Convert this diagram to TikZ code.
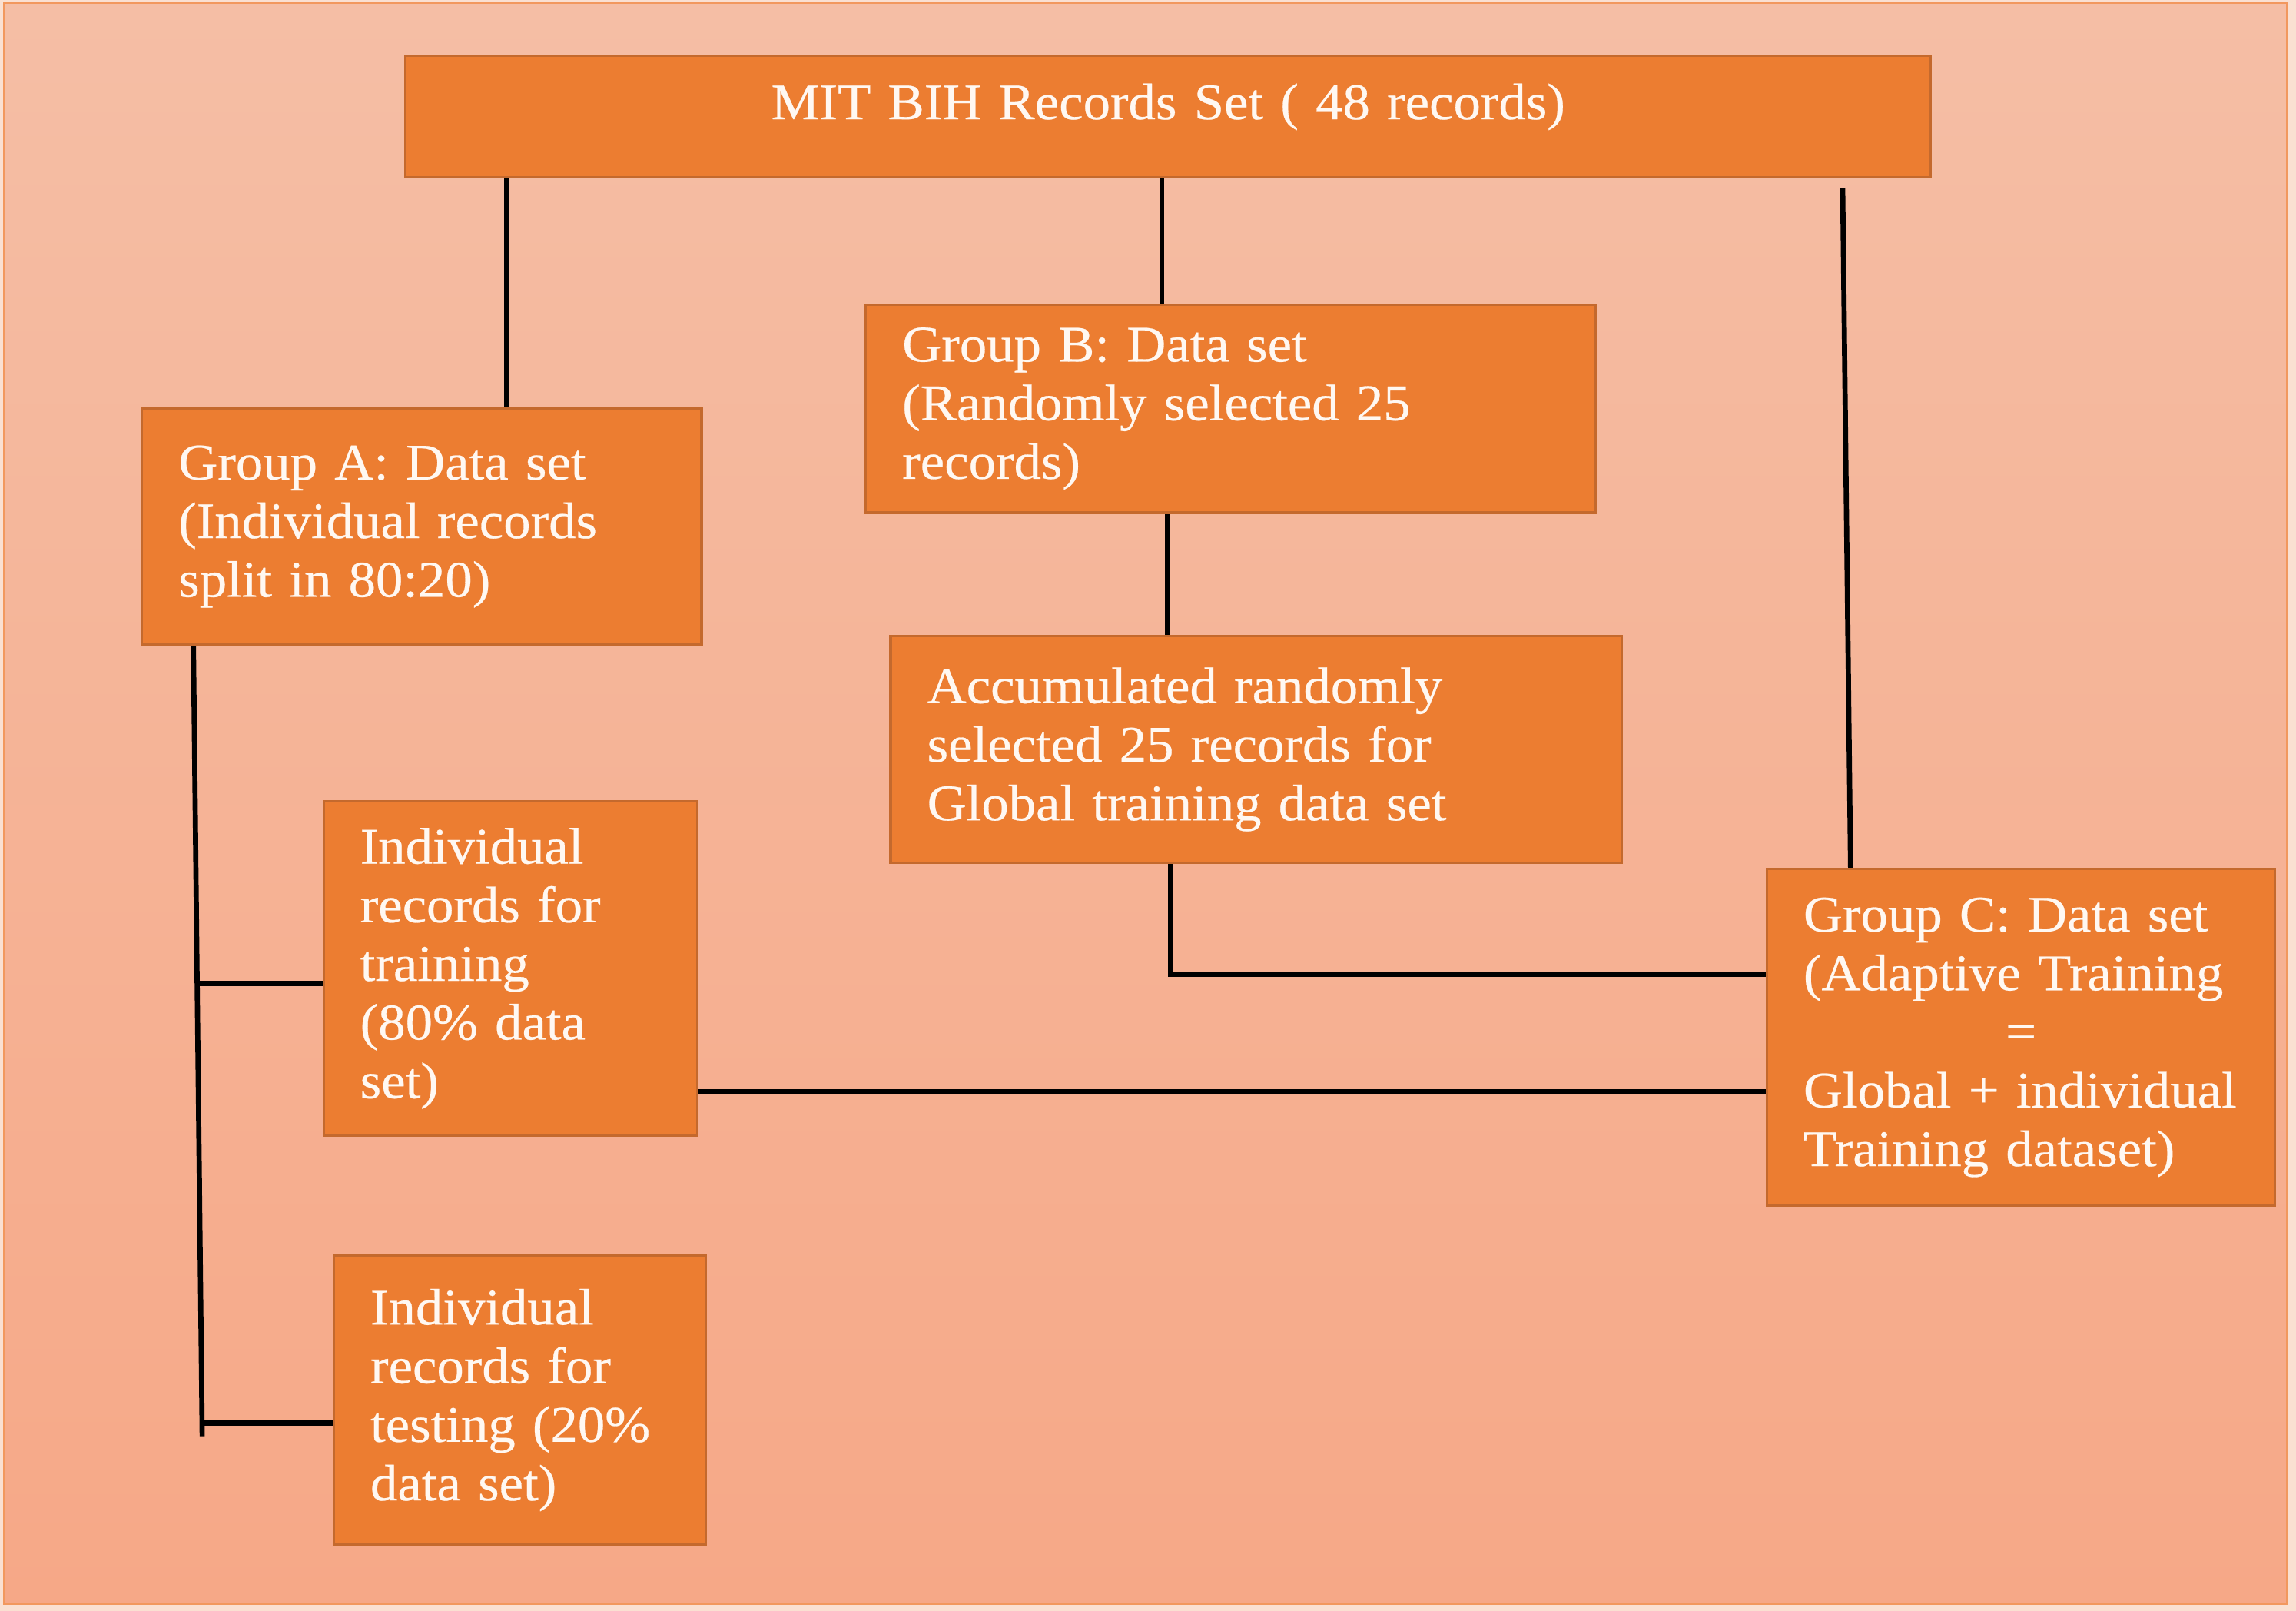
\documentclass[tikz,border=0pt]{standalone}
\usepackage{fontspec}
\setmainfont{Liberation Serif}[FakeStretch=1.06,FakeBold=0.4]
\usetikzlibrary{calc}
\definecolor{bgtop}{HTML}{F5BEA5}
\definecolor{bgbot}{HTML}{F6A887}
\definecolor{outerc}{HTML}{FAE0D2}
\definecolor{framec}{HTML}{F2985E}
\definecolor{boxfill}{HTML}{EC7D31}
\definecolor{boxedge}{HTML}{C4692D}
\definecolor{txt}{HTML}{FFF8F2}
\newcommand{\lineb}[1]{\mbox{#1}}
\begin{document}
\begin{tikzpicture}[x=1pt,y=-1pt,
  box/.style={draw=boxedge, fill=boxfill, line width=1.6pt, anchor=north west,
    align=left, inner xsep=25pt, inner ysep=0pt, text=txt,
    font=\fontsize{35}{40}\selectfont},
  link/.style={draw=black, line width=3.5pt}]
\useasboundingbox (0,0) rectangle (1567,1099);
\fill[outerc] (0,0) rectangle (1567,1099);
\shade[top color=bgtop, bottom color=bgbot] (3,2) rectangle (1561,1094);
\draw[framec, line width=1.6pt] (3,2) rectangle (1561,1094);

\node[box, minimum width=1041pt, minimum height=83pt, text width=991pt, align=center,
  text height=25pt, text depth=21pt] (top) at (276,37) {MIT BIH Records Set ( 48 records)};
\node[box, minimum width=498pt, minimum height=142pt, text width=448pt] (B) at (590,207)
  {\lineb{Group B: Data set}\\\lineb{(Randomly selected 25}\\\lineb{records)}};
\node[box, minimum width=382pt, minimum height=161pt, text width=332pt] (A) at (96,278)
  {\lineb{Group A: Data set}\\\lineb{(Individual records}\\\lineb{split in 80:20)}};
\node[box, minimum width=499pt, minimum height=155pt, text width=449pt] (acc) at (607,433)
  {\lineb{Accumulated randomly}\\\lineb{selected 25 records for}\\\lineb{Global training data set}};
\node[box, minimum width=255pt, minimum height=228pt, text width=205pt] (T) at (220,546)
  {\lineb{Individual}\\\lineb{records for}\\\lineb{training}\\\lineb{(80\% data}\\\lineb{set)}};
\node[box, minimum width=254pt, minimum height=197pt, text width=204pt] (U) at (227,856)
  {\lineb{Individual}\\\lineb{records for}\\\lineb{testing (20\%}\\\lineb{data set)}};
\node[box, minimum width=347pt, minimum height=230pt, text width=297pt] (C) at (1205,592)
  {\lineb{Group C: Data set}\\\lineb{(Adaptive Training}\\\makebox[\linewidth]{=}\\\lineb{Global + individual}\\\lineb{Training dataset)}};

% connectors
\coordinate (a1) at ($(A.north west)+(250,0)$);
\draw[link] (a1 |- top.south) -- (a1);
\coordinate (b1) at ($(B.north west)+(203,0)$);
\draw[link] (b1 |- top.south) -- (b1);
\coordinate (r0) at ($(top.south east)+(-61,7)$);
\coordinate (c0) at ($(C.north west)+(58,0)$);
\draw[link] (r0) -- (c0);
\coordinate (b2) at ($(B.south west)+(207,0)$);
\draw[link] (b2) -- (b2 |- acc.north);
\coordinate (acc1) at ($(acc.south west)+(192,0)$);
\coordinate (c1) at ($(C.north west)+(0,73)$);
\draw[link] (acc1) |- (c1);
\coordinate (t1) at ($(T.north east)+(0,199)$);
\draw[link] (t1) -- (t1 -| C.west);
\coordinate (s0) at ($(A.south west)+(36,0)$);
\coordinate (s3) at (138,980);
\draw[link] (s0) -- (s3);
\coordinate (t2) at ($(T.north west)+(0,125)$);
\coordinate (s1) at (135,671);
\draw[link] (s1) -- (t2);
\coordinate (u2) at ($(U.north west)+(0,115)$);
\coordinate (s2) at (138,971);
\draw[link] (s2) -- (u2);
\end{tikzpicture}
\end{document}
